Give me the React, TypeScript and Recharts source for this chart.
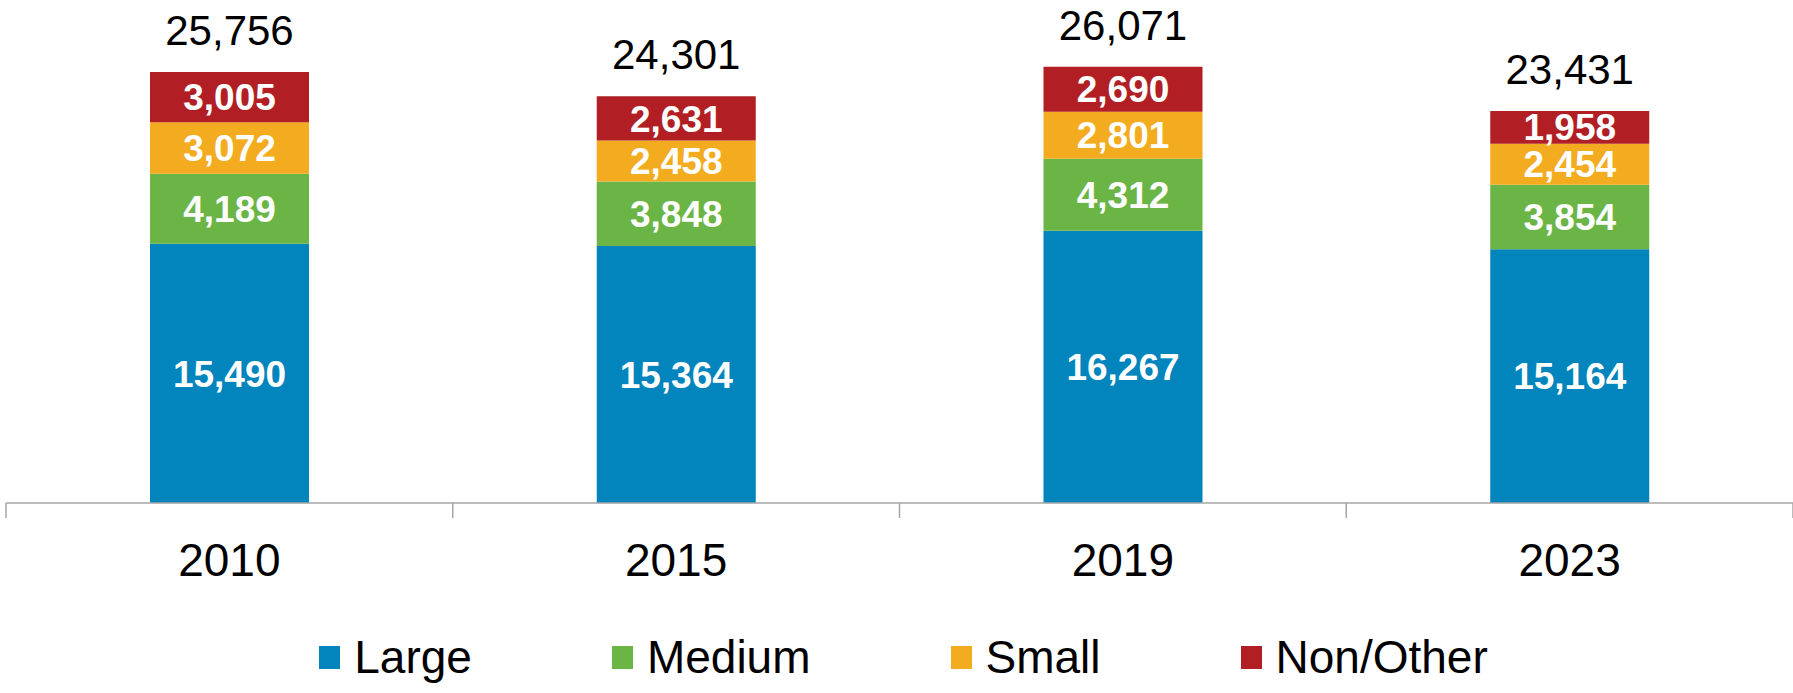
import { Bar, BarChart, LabelList, Legend, XAxis, YAxis } from "recharts";

const years = ["2010", "2015", "2019", "2023"];
const large = [15490, 15364, 16267, 15164];
const medium = [4189, 3848, 4312, 3854];
const small = [3072, 2458, 2801, 2454];
const nonOther = [3005, 2631, 2690, 1958];
const totals = [25756, 24301, 26071, 23431];

const series = [
  { key: "large", name: "Large", color: "#0284BD" },
  { key: "medium", name: "Medium", color: "#6BB546" },
  { key: "small", name: "Small", color: "#F3AB1F" },
  { key: "nonOther", name: "Non/Other", color: "#B11F25" },
];

const data = years.map((year, i) => ({
  year,
  large: large[i],
  medium: medium[i],
  small: small[i],
  nonOther: nonOther[i],
  total: totals[i],
}));

const FONT = "'Liberation Sans', Arial, Helvetica, sans-serif";
const fmt = (v: number) => v.toLocaleString("en-US");

function YearTick(props: any) {
  const { x, y, payload, index } = props;
  const half = payload?.offset ?? 223;
  return (
    <g>
      <line x1={x - half} x2={x - half} y1={y} y2={y + 15} stroke="#A6A6A6" strokeWidth={1.5} />
      {index === years.length - 1 && <line x1={x + half} x2={x + half} y1={y} y2={y + 15} stroke="#A6A6A6" strokeWidth={1.5} />}
      <text x={x} y={y + 73} textAnchor="middle" fontSize={46} fill="#000" fontFamily={FONT}>
        {payload.value}
      </text>
    </g>
  );
}

// total above each stack
function TotalLabel(props: any) {
  const { x, y, width, index } = props;
  return (
    <text x={x + width / 2} y={y - 27} textAnchor="middle" fontSize={42} fill="#000" fontFamily={FONT}>
      {fmt(totals[index])}
    </text>
  );
}

function LegendRow() {
  return (
    <div style={{ display: "flex", justifyContent: "center", alignItems: "center", gap: 140, height: 50, fontFamily: FONT, paddingLeft: 14 }}>
      {series.map((s) => (
        <div key={s.key} style={{ display: "flex", alignItems: "center" }}>
          <span style={{ width: 21, height: 23, background: s.color, marginRight: 14, display: "inline-block" }} />
          <span style={{ fontSize: 46, lineHeight: "50px", color: "#000" }}>{s.name}</span>
        </div>
      ))}
    </div>
  );
}

export default function App() {
  return (
    <div style={{ position: "absolute", left: 0, top: 0, width: 1793, height: 693, background: "#fff" }}>
      <BarChart width={1793} height={693} data={data} margin={{ top: 1, right: 0, left: 6, bottom: 0 }} style={{ fontFamily: FONT }}>
        <YAxis hide domain={[0, 30000]} />
        <XAxis
          dataKey="year"
          height={140}
          interval={0}
          tickLine={false}
          tickSize={0}
          tickMargin={0}
          axisLine={{ stroke: "#A6A6A6", strokeWidth: 1.5 }}
          tick={<YearTick />}
        />
        <Legend
          verticalAlign="bottom"
          content={() => <LegendRow />}
          wrapperStyle={{ top: 632, bottom: "auto", left: 0, width: 1793, height: 50 }}
        />
        {series.map((s, si) => (
          <Bar key={s.key} dataKey={s.key} name={s.name} stackId="a" fill={s.color} barSize={159} isAnimationActive={false}>
            <LabelList dataKey={s.key} position="center" fill="#ffffff" fontSize={37} fontWeight="bold" formatter={(v: any) => fmt(Number(v))} />
            {si === series.length - 1 && <LabelList dataKey="total" content={<TotalLabel />} />}
          </Bar>
        ))}
      </BarChart>
    </div>
  );
}
